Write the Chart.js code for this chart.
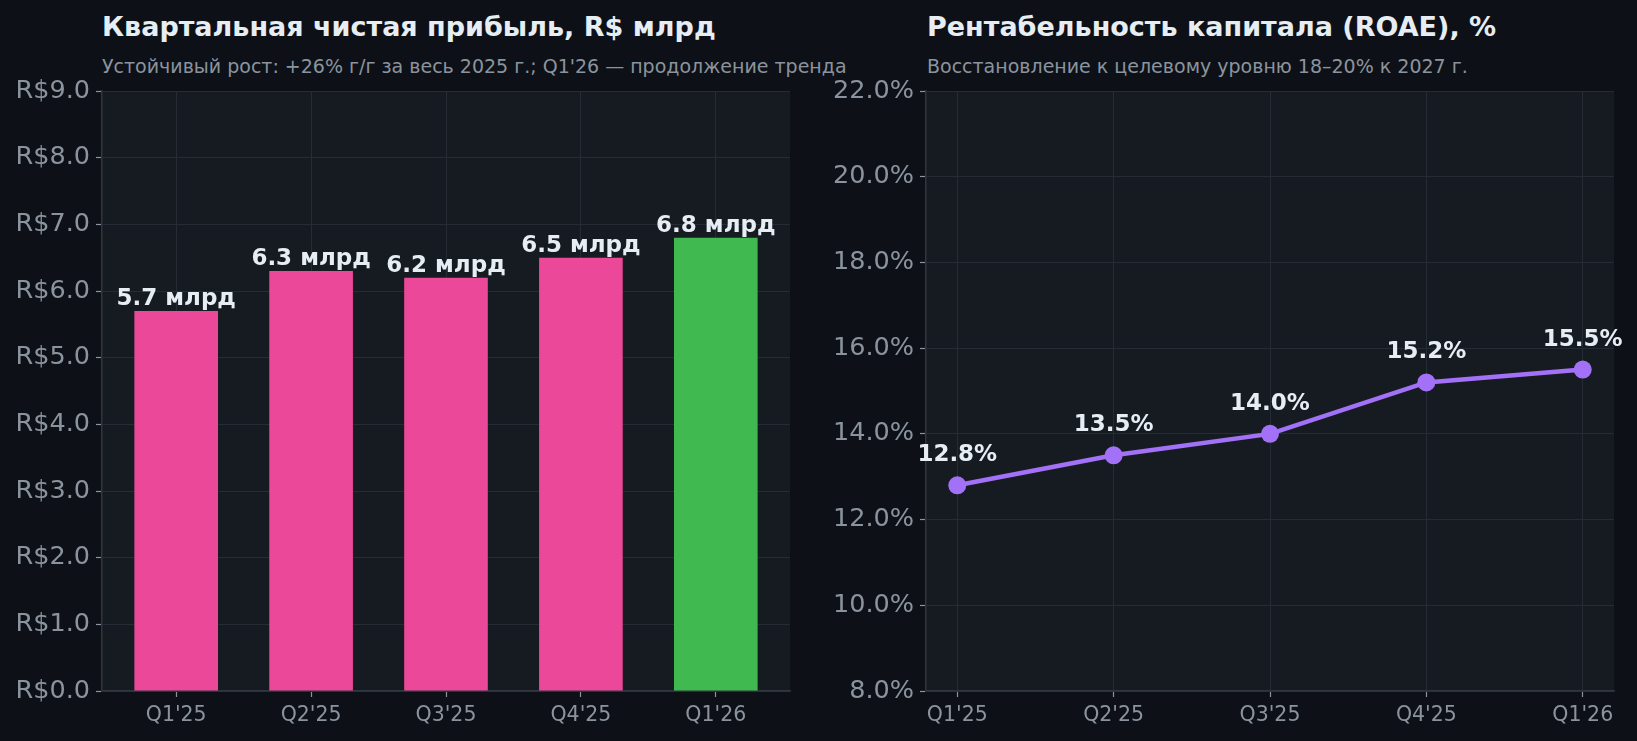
<!DOCTYPE html>
<html>
<head>
<meta charset="utf-8">
<script src="https://cdn.jsdelivr.net/npm/chart.js@4.4.1/dist/chart.umd.min.js"></script>
<style>
  html, body { margin: 0; padding: 0; background: #0d1117; width: 1637px; height: 741px; overflow: hidden; }
  body { position: relative; font-family: 'DejaVu Sans', sans-serif; }
  canvas { position: absolute; top: 0; }
  .title { position: absolute; color: #e6edf3; font-weight: bold; font-size: 27px; line-height: 30px; white-space: nowrap; }
  .sub { position: absolute; color: #8b949e; font-size: 19px; line-height: 20px; white-space: nowrap; }
</style>
</head>
<body>
<div class="title" style="left:102px; top:12px;">Квартальная чистая прибыль, R$ млрд</div>
<div class="sub" style="left:102px; top:56px;">Устойчивый рост: +26% г/г за весь 2025 г.; Q1'26 — продолжение тренда</div>
<div class="title" style="left:927px; top:12px;">Рентабельность капитала (ROAE), %</div>
<div class="sub" style="left:927px; top:56px;">Восстановление к целевому уровню 18–20% к 2027 г.</div>
<canvas id="c1" width="818" height="741" style="left:0; width:818px; height:741px;"></canvas>
<canvas id="c2" width="819" height="741" style="left:818px; width:819px; height:741px;"></canvas>
<script>
// ---- data ----
const quarters = ["Q1'25", "Q2'25", "Q3'25", "Q4'25", "Q1'26"];
const netIncome = [5.7, 6.3, 6.2, 6.5, 6.8];            // R$ bn
const incomeLabels = ["5.7 млрд", "6.3 млрд", "6.2 млрд", "6.5 млрд", "6.8 млрд"];
const roae = [12.8, 13.5, 14.0, 15.2, 15.5];             // %
const incomeTicks = [0, 1, 2, 3, 4, 5, 6, 7, 8, 9];
const roaeTicks = [8, 10, 12, 14, 16, 18, 20, 22];

// ---- styles ----
const PINK = '#ec4899', GREEN = '#3fb950', PURPLE = '#a371f7';
const PLOT_BG = '#161b22', GRID = '#262c36', SPINE = '#30363d';
const TICK_TXT = '#8b949e', LABEL_TXT = '#e6edf3';
const FONT = "'DejaVu Sans', sans-serif";
Chart.defaults.font.family = FONT;
Chart.defaults.devicePixelRatio = 1;

const plotBg = {
  id: 'plotBg',
  beforeDraw(chart) {
    const {ctx, chartArea: a} = chart;
    ctx.save();
    ctx.fillStyle = PLOT_BG;
    ctx.fillRect(a.left, a.top, a.right - a.left, a.bottom - a.top);
    ctx.restore();
  }
};

const valueLabels = {
  id: 'valueLabels',
  afterDatasetsDraw(chart, args, opts) {
    const {ctx} = chart;
    const meta = chart.getDatasetMeta(0);
    ctx.save();
    ctx.font = 'bold ' + opts.size + 'px ' + FONT;
    ctx.fillStyle = LABEL_TXT;
    ctx.textAlign = 'center';
    ctx.textBaseline = 'alphabetic';
    meta.data.forEach((el, i) => {
      ctx.fillText(opts.texts[i], el.x, el.y - opts.offset);
    });
    ctx.restore();
  }
};

function xScale(min, max) {
  return {
    type: 'linear', min: min, max: max, offset: false,
    afterBuildTicks(s) { s.ticks = quarters.map((q, i) => ({value: i})); },
    afterFit(s) { s.height = 50; },
    grid: { display: true, offset: false, color: GRID, lineWidth: 1, drawTicks: true, tickLength: 6, tickColor: TICK_TXT, tickWidth: 1.2 },
    border: { display: true, color: SPINE, width: 1.5 },
    ticks: {
      color: TICK_TXT, font: { size: 20.5 }, padding: 6, autoSkip: false, maxRotation: 0,
      callback: (v) => quarters[v]
    }
  };
}

function yScale(min, max, ticksArr, fmt, width) {
  return {
    type: 'linear', min: min, max: max,
    afterBuildTicks(s) { s.ticks = ticksArr.map(v => ({value: v})); },
    afterFit(s) { s.width = width; },
    grid: { display: true, color: GRID, lineWidth: 1, drawTicks: true, tickLength: 6, tickColor: TICK_TXT, tickWidth: 1.2 },
    border: { display: true, color: SPINE, width: 1.5 },
    ticks: { color: TICK_TXT, font: { size: 25.5 }, padding: 6, callback: fmt }
  };
}

new Chart(document.getElementById('c1'), {
  type: 'bar',
  data: {
    datasets: [{
      data: netIncome.map((v, i) => ({x: i, y: v})),
      backgroundColor: netIncome.map((v, i) => i === netIncome.length - 1 ? GREEN : PINK),
      borderWidth: 0,
      barPercentage: 0.62,
      categoryPercentage: 1.0
    }]
  },
  options: {
    responsive: false, animation: false,
    layout: { padding: { top: 91, right: 28, bottom: 0, left: 0 } },
    plugins: { legend: { display: false }, tooltip: { enabled: false },
      valueLabels: { texts: incomeLabels, size: 23, offset: 6 } },
    scales: {
      x: xScale(-0.55, 4.55),
      y: yScale(0, 9, incomeTicks, v => 'R$' + v.toFixed(1), 102)
    }
  },
  plugins: [plotBg, valueLabels]
});

new Chart(document.getElementById('c2'), {
  type: 'line',
  data: {
    datasets: [{
      data: roae.map((v, i) => ({x: i, y: v})),
      borderColor: PURPLE, backgroundColor: PURPLE,
      borderWidth: 4.5, pointRadius: 9, pointHoverRadius: 9,
      pointBackgroundColor: PURPLE, pointBorderWidth: 0, tension: 0
    }]
  },
  options: {
    responsive: false, animation: false,
    layout: { padding: { top: 91, right: 23, bottom: 0, left: 0 } },
    plugins: { legend: { display: false }, tooltip: { enabled: false },
      valueLabels: { texts: roae.map(v => v.toFixed(1) + '%'), size: 23, offset: 24 } },
    scales: {
      x: xScale(-0.2, 4.2),
      y: yScale(8, 22, roaeTicks, v => v.toFixed(1) + '%', 108)
    }
  },
  plugins: [plotBg, valueLabels]
});
</script>
</body>
</html>
